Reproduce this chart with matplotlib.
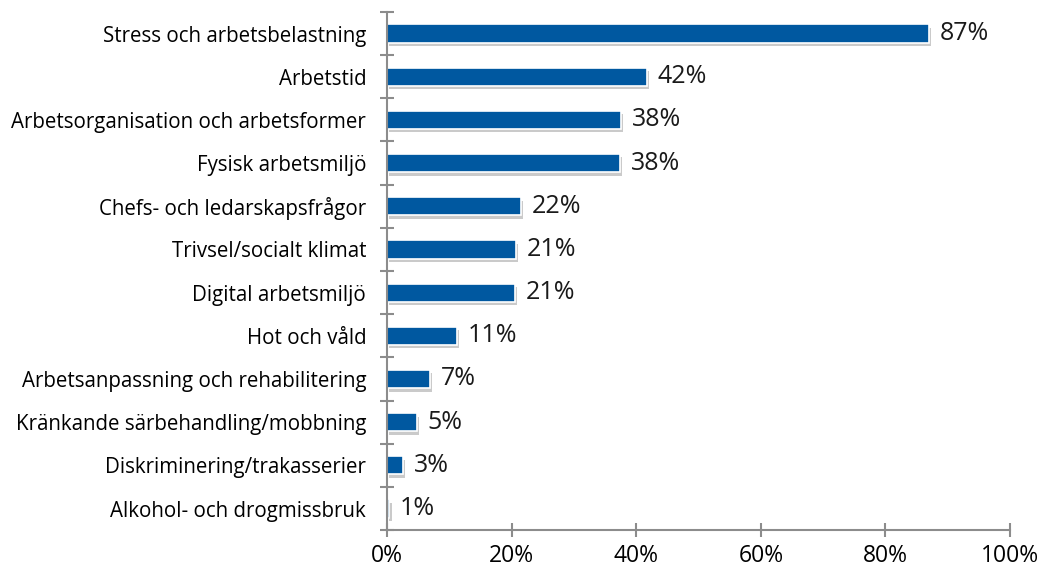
import matplotlib.pyplot as plt
import matplotlib.patheffects as pe
import numpy as np

plt.rcParams['font.family'] = ['Open Sans', 'DejaVu Sans']

categories = [
    "Stress och arbetsbelastning",
    "Arbetstid",
    "Arbetsorganisation och arbetsformer",
    "Fysisk arbetsmiljö",
    "Chefs- och ledarskapsfrågor",
    "Trivsel/socialt klimat",
    "Digital arbetsmiljö",
    "Hot och våld",
    "Arbetsanpassning och rehabilitering",
    "Kränkande särbehandling/mobbning",
    "Diskriminering/trakasserier",
    "Alkohol- och drogmissbruk",
]
values = [87.0, 41.7, 37.6, 37.4, 21.5, 20.7, 20.5, 11.2, 6.9, 4.8, 2.6, 0.4]
value_labels = ["87%", "42%", "38%", "38%", "22%", "21%", "21%", "11%", "7%", "5%", "3%", "1%"]

bar_color = "#0058a0"
axis_color = "#8c8c8c"

fig = plt.figure(figsize=(10.38, 5.67), dpi=100)
ax = fig.add_axes([0.3728, 0.065, 0.6003, 0.914])

y = np.arange(len(categories))
bars = ax.barh(y, values, height=0.42, color=bar_color, edgecolor="white", linewidth=1.2)
for b in bars:
    b.set_path_effects([pe.SimplePatchShadow(offset=(1.5, -2.5), shadow_rgbFace="#8a8a8a", alpha=0.45), pe.Normal()])

for yi, v, lab in zip(y, values, value_labels):
    ax.text(v + 1.7, yi, lab, va="center", ha="left", fontsize=18, color="#1a1a1a")

ax.set_xlim(0, 100)
ax.set_ylim(len(categories) - 0.5, -0.5)
ax.set_xticks(np.arange(0, 101, 20))
ax.set_xticklabels([f"{t}%" for t in range(0, 101, 20)], fontsize=16.5)
ax.set_yticks(y)
ax.set_yticklabels(categories, fontsize=14.8)
ax.set_yticks(np.arange(-0.5, len(categories), 1), minor=True)
ax.tick_params(axis="y", which="major", length=0, pad=15)
ax.tick_params(axis="y", which="minor", length=10, direction="inout", color=axis_color, width=1.5)
ax.tick_params(axis="x", which="major", length=10, direction="inout", color=axis_color, width=1.5, pad=5)

for s in ["top", "right"]:
    ax.spines[s].set_visible(False)
for s in ["left", "bottom"]:
    ax.spines[s].set_color(axis_color)
    ax.spines[s].set_linewidth(1.5)

fig.savefig("out.png", dpi=100)
